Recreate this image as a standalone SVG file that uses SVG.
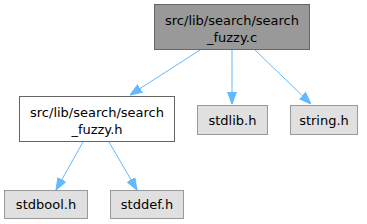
<svg xmlns="http://www.w3.org/2000/svg" width="367" height="224" viewBox="0 0 367 224">
<defs>
<style>
text{font-family:"DejaVu Sans",sans-serif;font-size:13px;fill:#000;text-anchor:middle}
.main rect{fill:#999999;stroke:#666666}
.node rect{fill:#ffffff;stroke:#666666}
.sys rect{fill:#e0e0e0;stroke:#999999}
.edge{stroke:#63b8ff;fill:none;stroke-width:1}
</style>
<marker id="ah" viewBox="0 0 12 10" refX="12" refY="5" markerWidth="12" markerHeight="10" markerUnits="userSpaceOnUse" orient="auto">
<path d="M0,0.5 L12,5 L0,9.5 Z" fill="#63b8ff" stroke="#63b8ff"/>
</marker>
</defs>
<g id="connectors">
<path class="edge" d="M200,50 L130,95" marker-end="url(#ah)"/>
<path class="edge" d="M232,50 L232,104" marker-end="url(#ah)"/>
<path class="edge" d="M255,50 L311,104" marker-end="url(#ah)"/>
<path class="edge" d="M83,142 L56,190" marker-end="url(#ah)"/>
<path class="edge" d="M109,142 L137,190" marker-end="url(#ah)"/>
</g>
<g id="search_fuzzy_c" class="main">
<rect x="154.5" y="4.5" width="155" height="45"/>
<text x="232" y="25">src/lib/search/search</text>
<text x="232" y="42">_fuzzy.c</text>
</g>
<g id="search_fuzzy_h" class="node">
<rect x="19.5" y="96.5" width="155" height="45"/>
<text x="97" y="117">src/lib/search/search</text>
<text x="97" y="134">_fuzzy.h</text>
</g>
<g id="stdlib_h" class="sys">
<rect x="197.5" y="105.5" width="70" height="29"/>
<text x="232.5" y="124.5">stdlib.h</text>
</g>
<g id="string_h" class="sys">
<rect x="290.5" y="105.5" width="67" height="29"/>
<text x="324" y="124.5">string.h</text>
</g>
<g id="stdbool_h" class="sys">
<rect x="4.5" y="190.5" width="83" height="28"/>
<text x="46" y="209">stdbool.h</text>
</g>
<g id="stddef_h" class="sys">
<rect x="110.5" y="190.5" width="73" height="28"/>
<text x="147" y="209">stddef.h</text>
</g>
</svg>
